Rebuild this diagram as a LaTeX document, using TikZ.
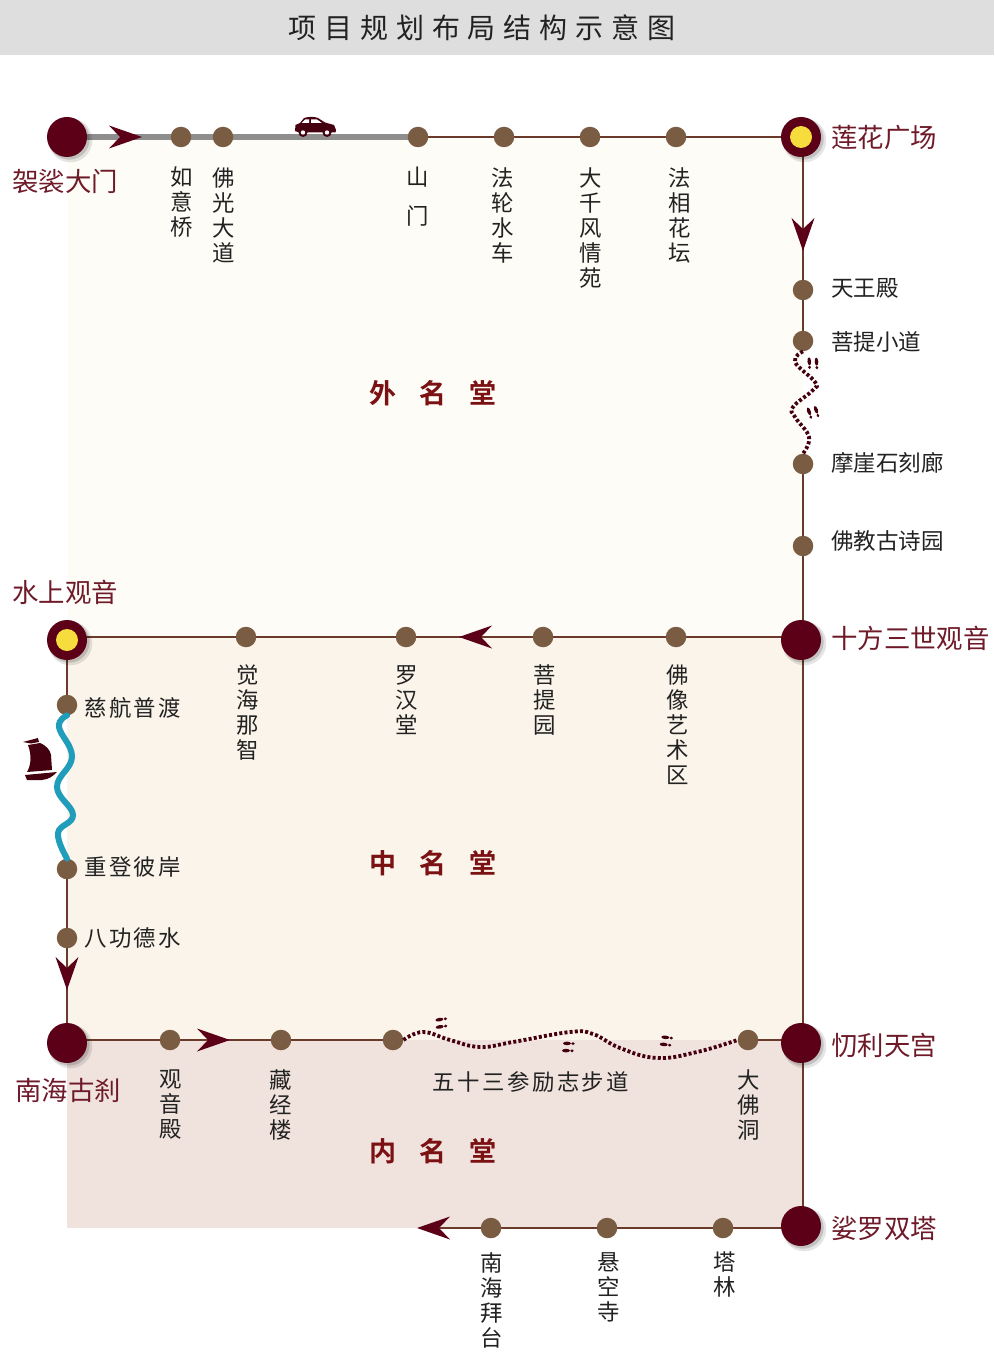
\documentclass[tikz,border=0pt]{standalone}
\usepackage{fontspec}
\usetikzlibrary{backgrounds,shadows}
\newfontfamily\cjk{Noto Sans CJK SC}
\newfontfamily\cjkwide[LetterSpace=11]{Noto Sans CJK SC}
\newfontfamily\cjktitle[LetterSpace=28]{Noto Sans CJK SC}
\newfontfamily\cjkhall{Noto Sans CJK SC Bold}
\definecolor{maroon}{HTML}{5C0018}
\definecolor{labelred}{HTML}{6E1A28}
\definecolor{stopbrown}{HTML}{7A5C43}
\definecolor{linebrown}{HTML}{6B3A2A}
\definecolor{roadgrey}{HTML}{8E8E8E}
\definecolor{river}{HTML}{1F9DBB}
\definecolor{hallred}{HTML}{7B1113}
\definecolor{zoneout}{HTML}{FDFCF6}
\definecolor{zonemid}{HTML}{FAF4EA}
\definecolor{zonein}{HTML}{F0E3DE}
\definecolor{bartop}{HTML}{DEDEDE}
\definecolor{inktext}{HTML}{222222}
\definecolor{footdark}{HTML}{45000F}
\definecolor{yolkyellow}{HTML}{F6DC3C}
\tikzset{
  x=1pt,y=-1pt,
  bigdot/.style={circle,fill=maroon,minimum size=40pt,inner sep=0pt,
    general shadow={shadow xshift=3pt,shadow yshift=-3pt,shadow scale=1.1,fill=black,opacity=.10},
    general shadow={shadow xshift=2pt,shadow yshift=-2pt,shadow scale=1.03,fill=black,opacity=.15}},
  yolk/.style={circle,fill=yolkyellow,minimum size=22pt,inner sep=0pt},
  stopdot/.style={circle,fill=stopbrown,minimum size=20.5pt,inner sep=0pt},
  vtext/.style={align=center,inner sep=0pt,xshift=0.8pt,text=inktext,font=\cjk\fontsize{22.4}{25}\selectfont},
  htext/.style={anchor=west,inner sep=0pt,text=inktext,font=\cjk\fontsize{22.5}{25}\selectfont},
  wtext/.style={anchor=west,inner sep=0pt,text=inktext,font=\cjkwide\fontsize{22.4}{25}\selectfont},
  ptext/.style={anchor=west,inner sep=0pt,text=labelred,font=\cjk\fontsize{26.4}{28}\selectfont},
  halltext/.style={inner sep=0pt,text=hallred,font=\cjkhall\fontsize{27}{28}\selectfont},
  route/.style={draw=linebrown,line width=1.9pt},
  road/.style={draw=roadgrey,line width=5.5pt},
  water/.style={draw=river,line width=6pt,line cap=round},
  trail/.style={draw=footdark,line width=3.8pt,dash pattern=on 3pt off 2.2pt},
  feet/.pic={
    \fill[footdark] (-1,-3.6) ellipse [x radius=4,y radius=1.8];
    \fill[footdark] (5,-3.4) ellipse [x radius=1.8,y radius=1.5];
    \fill[footdark] (-2,3.6) ellipse [x radius=4,y radius=1.8];
    \fill[footdark] (4,3.8) ellipse [x radius=1.8,y radius=1.5];},
  headtip/.pic={\fill[maroon] (17,0) -- (-16,-11.5) -- (-5,0) -- (-16,11.5) -- cycle;}
}
\begin{document}
\begin{tikzpicture}
\useasboundingbox (0,0) rectangle (994,1372);
\node[inner sep=0pt,text=inktext,font=\cjktitle\fontsize{28}{30}\selectfont] (title) at (482,28) {项目规划布局结构示意图};

% major stations
\node[bigdot] (gate) at (67,137) {};
\node[bigdot] (lotus) at (801,137) {};
\node[yolk] (lotusy) at (lotus) {};
\node[bigdot] (shifang) at (801,640) {};
\node[bigdot] (water) at (67,640) {};
\node[yolk] (watery) at (water) {};
\node[bigdot] (nanhai) at (67,1043) {};
\node[bigdot] (daoli) at (801,1043) {};
\node[bigdot] (suoluo) at (801,1226) {};

% stops
\foreach \n/\x/\y in {ruyi/181/137,foguang/223/137,shan/418/137,falun/504/137,daqian/590/137,faxiang/676/137,
  tianwang/803/290,puti/803/341,moya/803/464,gushi/803/546,
  foxiang/676/637,putiyuan/543/637,luohan/406/637,juehai/246/637,
  cihang/67/705,dengan/67/869,bagong/67/938,
  guanyin/170/1040,cangjing/281/1040,buxing/393/1040,dafo/748/1040,
  talin/723/1228,xuankong/607/1228,baitai/491/1228}
  \node[stopdot] (\n) at (\x,\y) {};
\coordinate (bottomend) at (425,1228);

\begin{scope}[on background layer]
\fill[white] (0,0) rectangle (994,1372);
\fill[bartop] (0,0) rectangle (994,55);
\fill[zoneout] (68,137) rectangle (803,637);
\fill[zonemid] (67,637) rectangle (803,1040);
\fill[zonein] (67,1040) rectangle (803,1228);
\path[road] (gate.center) -- (shan.center);
\path[route] (shan.center) -- (lotus.center);
\path[route] (lotus.center -| puti) -- (puti.center);
\path[route] (moya.center) -- (shifang.center -| moya);
\path[route] (shifang.center -| moya) -- (suoluo.center -| moya);
\path[route] (shifang.center |- foxiang) -- (water.center |- foxiang);
\path[route] (water.center) -- (cihang.center);
\path[route] (dengan.center) -- (nanhai.center);
\path[route] (nanhai.center |- guanyin) -- (buxing.center);
\path[route] (dafo.center) -- (daoli.center |- dafo);
\path[route] (suoluo.center |- talin) -- (bottomend);
\end{scope}

% river and foot trails
\path[water] plot[smooth,tension=.7] coordinates {(cihang.south) (59,727) (72,757) (57,787) (73,815) (58,833) (dengan.north)};
\path[trail] plot[smooth,tension=.7] coordinates {(puti.south) (795,362) (815,382) (813,390) (793,407) (795,417) (809,437) (moya.north)};
\path[trail] plot[smooth,tension=.7] coordinates {(buxing.east) (423,1032) (450,1040) (480,1047) (513,1042) (570,1032) (593,1034) (620,1048) (657,1058) (697,1052) (dafo.west)};

% arrowheads
\pic at (125,137) {headtip};
\pic[rotate=-90] at (803,234) {headtip};
\pic[rotate=180] at (476,637) {headtip};
\pic[rotate=-90] at (67,973) {headtip};
\pic at (213,1040) {headtip};
\pic[rotate=180] at (434,1228) {headtip};

% footprints
\pic[rotate=-85] at (813,363) {feet};
\pic[rotate=-70] at (813,412) {feet};
\pic[rotate=10] at (441,1023) {feet};
\pic at (568,1047) {feet};
\pic[rotate=-5] at (666,1041) {feet};

% car
\fill[footdark] (295,131) -- (295.5,125) -- (300,123) -- (304,118) .. controls (309,116.5) and (314,116.5) .. (318,118) -- (325,122.5) -- (334,125) -- (336,130) -- (335.5,132.5) -- (331,132.5) -- (323,132.5) -- (307,132.5) -- (299,132.5) -- cycle;
\fill[white] (301.5,123) -- (305,119.5) -- (309,119.5) -- (309,123) -- cycle (311,119.5) -- (317,119.5) -- (322,123) -- (311,123) -- cycle;
\foreach \cx in {303,327} {
  \fill[footdark] (\cx,132.5) circle (4.5);
  \fill[white] (\cx,132.5) circle (2.2);
}

% boat
\fill[footdark] (28,745) -- (40,743) .. controls (47,746) and (50,750) .. (51,755) -- (52,770) -- (27,772) .. controls (31,765) and (32,756) .. (28,745) -- cycle;
\fill[footdark] (23,742) -- (38,738) -- (39,742) -- (31,743.5) -- cycle;
\fill[footdark] (25,775) -- (57,772) .. controls (52,777) and (49,779) .. (42,780) -- (27,780) -- cycle;

% hall titles
\node[halltext] (wai) at (433,393) {外\hspace{23pt}名\hspace{23pt}堂};
\node[halltext] (zhong) at (433,863) {中\hspace{23pt}名\hspace{23pt}堂};
\node[halltext] (nei) at (433,1151) {内\hspace{23pt}名\hspace{23pt}堂};

% principal labels
\node[ptext] (tgate) at (12,181) {袈裟大门};
\node[ptext] (tlotus) at (831,138) {莲花广场};
\node[ptext] (twater) at (12,592) {水上观音};
\node[ptext] (tshifang) at (831,638) {十方三世观音};
\node[ptext] (tnanhai) at (15,1090) {南海古刹};
\node[ptext] (tdaoli) at (831,1045) {忉利天宫};
\node[ptext] (tsuoluo) at (831,1228) {娑罗双塔};

% horizontal labels
\node[htext] (ttianwang) at (831,288) {天王殿};
\node[htext] (tputi) at (831,342) {菩提小道};
\node[htext] (tmoya) at (831,463) {摩崖石刻廊};
\node[htext] (tgushi) at (831,541) {佛教古诗园};
\node[wtext] (tcihang) at (84,708) {慈航普渡};
\node[wtext] (tdengan) at (84,867) {重登彼岸};
\node[wtext] (tbagong) at (84,938) {八功德水};
\node[wtext,anchor=center] (tbuxing) at (531,1082) {五十三参励志步道};

% vertical labels
\node[vtext] (truyi) at (181,202) {如\\意\\桥};
\node[vtext] (tfoguang) at (223,215) {佛\\光\\大\\道};
\node[vtext] (tshan) at (417,197) {山\\[14pt]门};
\node[vtext] (tfalun) at (502,215) {法\\轮\\水\\车};
\node[vtext] (tdaqian) at (590,228) {大\\千\\风\\情\\苑};
\node[vtext] (tfaxiang) at (679,215) {法\\相\\花\\坛};
\node[vtext] (tjuehai) at (247,713) {觉\\海\\那\\智};
\node[vtext] (tluohan) at (406,700) {罗\\汉\\堂};
\node[vtext] (tputiyuan) at (544,700) {菩\\提\\园};
\node[vtext] (tfoxiang) at (677,725) {佛\\像\\艺\\术\\区};
\node[vtext] (tguanyin) at (170,1105) {观\\音\\殿};
\node[vtext] (tcangjing) at (280,1105) {藏\\经\\楼};
\node[vtext] (tdafo) at (748,1105) {大\\佛\\洞};
\node[vtext] (ttalin) at (724,1274) {塔\\林};
\node[vtext] (txuankong) at (608,1287) {悬\\空\\寺};
\node[vtext] (tbaitai) at (491,1300) {南\\海\\拜\\台};
\end{tikzpicture}
\end{document}
